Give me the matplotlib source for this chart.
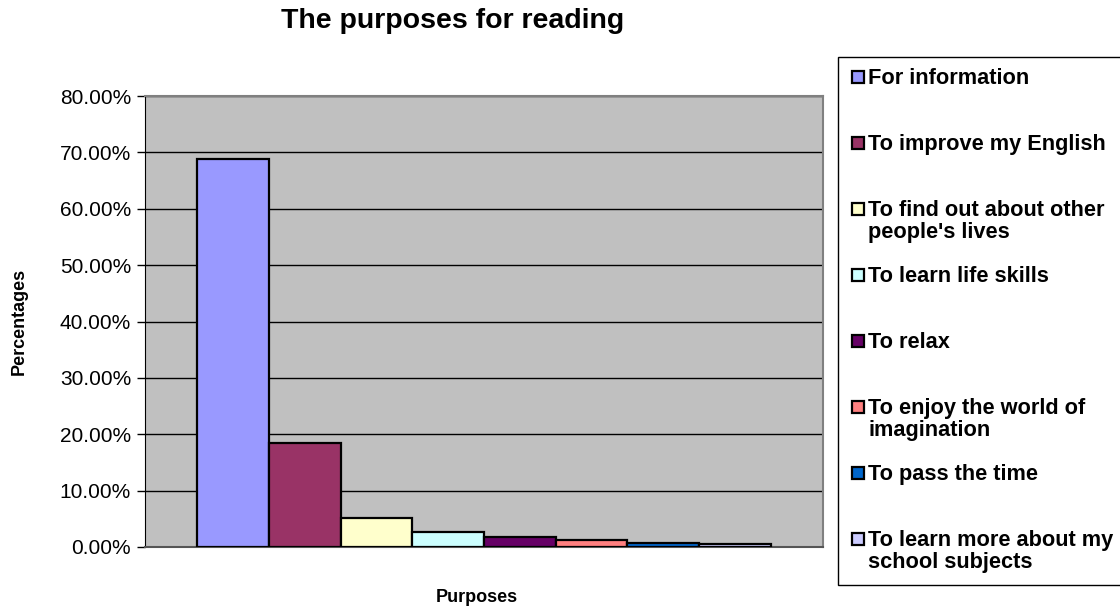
import matplotlib
matplotlib.use("Agg")
import matplotlib.pyplot as plt
from matplotlib.patches import Rectangle
from matplotlib.ticker import FuncFormatter, MultipleLocator

plt.rcParams['font.family'] = ['Liberation Sans', 'DejaVu Sans']

purposes = [
    "For information",
    "To improve my English",
    "To find out about other\npeople's lives",
    "To learn life skills",
    "To relax",
    "To enjoy the world of\nimagination",
    "To pass the time",
    "To learn more about my\nschool subjects",
]
shares = [68.75, 18.5, 5.1, 2.7, 1.7, 1.25, 0.75, 0.5]
colors = ["#9999FF", "#993366", "#FFFFCC", "#CCFFFF",
          "#660066", "#FF8080", "#0066CC", "#CCCCFF"]

W, H = 1120, 613
fig = plt.figure(figsize=(W / 100, H / 100), dpi=100)
ax = fig.add_axes([145 / W, 1 - 547 / H, (823 - 145) / W, (547 - 96) / H])
ax.set_facecolor("#C0C0C0")

xs = list(range(len(shares)))
ax.bar(xs, shares, width=1.0, color=colors, edgecolor="black",
       linewidth=1.6, zorder=3)
ax.set_xlim(-1.23, 8.23)
ax.set_ylim(0, 80)
ax.yaxis.set_major_locator(MultipleLocator(10))
ax.yaxis.set_major_formatter(FuncFormatter(lambda v, p: f"{v:.2f}%"))
ax.grid(axis="y", color="black", linewidth=1.0, zorder=1)
ax.set_xticks([])
ax.tick_params(axis="y", labelsize=15, length=6, width=1, pad=4)

for side in ["top", "right"]:
    ax.spines[side].set_color("#808080")
    ax.spines[side].set_linewidth(1.5)
ax.spines["left"].set_color("black")
ax.spines["bottom"].set_color("#555555")
ax.spines["bottom"].set_linewidth(1.5)

ax.set_ylabel("Percentages", fontsize=13, fontweight="bold", labelpad=23)
fig.text(477 / W, 1 - 597 / H, "Purposes", ha="center", va="center",
         fontsize=13, fontweight="bold")
fig.text(453 / W, 1 - 21 / H, "The purposes for reading", ha="center",
         va="center", fontsize=20.5, fontweight="bold")

# legend box with evenly spaced entries
fig.add_artist(Rectangle((838 / W, 1 - 585 / H), 300 / W, (585 - 57) / H,
                         transform=fig.transFigure, facecolor="white",
                         edgecolor="black", linewidth=1.0))
for i, (lab, c) in enumerate(zip(purposes, colors)):
    yc = 77 + 66 * i
    fig.add_artist(Rectangle((852 / W, 1 - (yc + 6) / H), 12 / W, 12 / H,
                             transform=fig.transFigure, facecolor=c,
                             edgecolor="black", linewidth=1.6))
    fig.text(868 / W, 1 - (yc - 9) / H, lab, ha="left", va="top",
             fontsize=15.7, fontweight="bold", linespacing=1.05)

fig.savefig("out.png", dpi=100)
